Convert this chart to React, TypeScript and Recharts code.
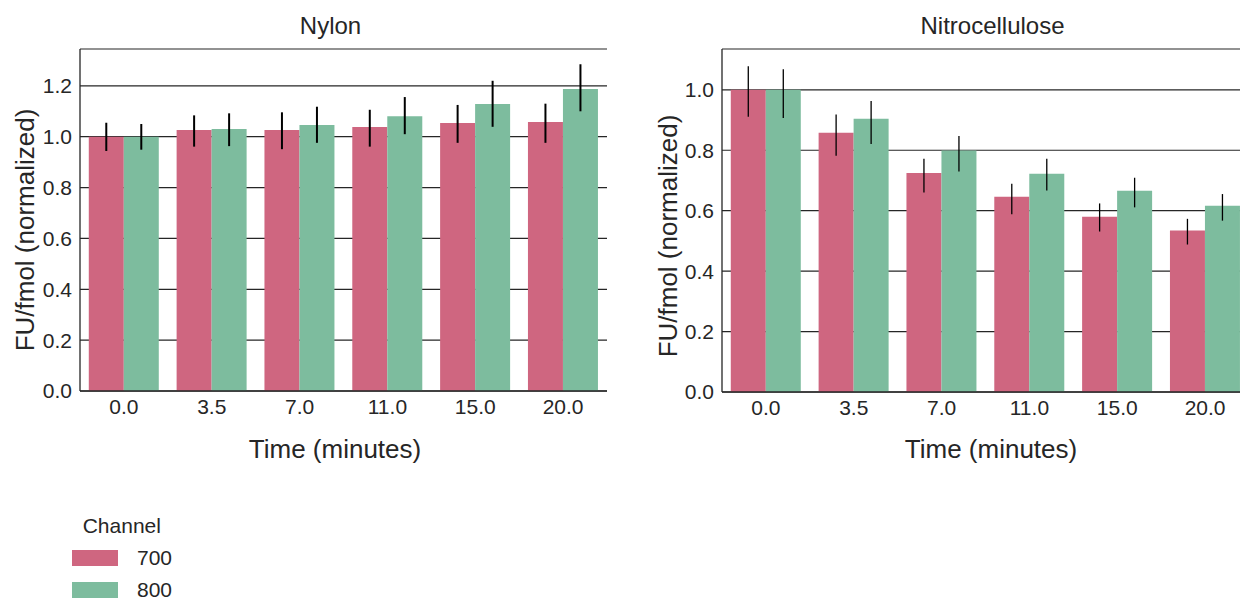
import { BarChart, Bar, XAxis, YAxis, CartesianGrid, ErrorBar } from "recharts";

const times = ["0.0", "3.5", "7.0", "11.0", "15.0", "20.0"];
const yTicks = [0, 0.2, 0.4, 0.6, 0.8, 1.0, 1.2];

// Nylon membrane, mean + 95% CI bounds
const nylon700 = [1.0, 1.026, 1.026, 1.038, 1.054, 1.058];
const nylon700Low = [0.944, 0.961, 0.951, 0.961, 0.976, 0.976];
const nylon700High = [1.055, 1.084, 1.096, 1.106, 1.125, 1.13];
const nylon800 = [1.0, 1.03, 1.046, 1.081, 1.129, 1.188];
const nylon800Low = [0.949, 0.963, 0.976, 1.01, 1.039, 1.1];
const nylon800High = [1.05, 1.092, 1.118, 1.156, 1.22, 1.285];

// Nitrocellulose membrane
const nitro700 = [1.0, 0.858, 0.725, 0.646, 0.58, 0.534];
const nitro700Low = [0.911, 0.782, 0.66, 0.588, 0.531, 0.488];
const nitro700High = [1.078, 0.918, 0.772, 0.689, 0.624, 0.573];
const nitro800 = [1.0, 0.904, 0.799, 0.722, 0.666, 0.616];
const nitro800Low = [0.907, 0.821, 0.73, 0.667, 0.611, 0.567];
const nitro800High = [1.068, 0.963, 0.847, 0.772, 0.709, 0.655];

const PINK = "#cf6680";
const GREEN = "#7dbc9e";
const TEXT = "#262626";
const LINE = "#262626";
const FONT = "'Liberation Sans', Arial, sans-serif";

const buildRows = (a: number[], aLo: number[], aHi: number[], b: number[], bLo: number[], bHi: number[]) =>
  times.map((t, i) => ({
    time: t,
    c700: a[i],
    e700: [a[i] - aLo[i], aHi[i] - a[i]],
    c800: b[i],
    e800: [b[i] - bLo[i], bHi[i] - b[i]],
  }));

const nylonRows = buildRows(nylon700, nylon700Low, nylon700High, nylon800, nylon800Low, nylon800High);
const nitroRows = buildRows(nitro700, nitro700Low, nitro700High, nitro800, nitro800Low, nitro800High);

function Panel({ data, width, yAxisWidth, bottom, yMax, errWidth }: any) {
  const ticks = yTicks.filter((t) => t <= yMax);
  return (
    <BarChart
      width={width}
      height={460}
      data={data}
      margin={{ top: 49, right: 13, bottom, left: 0 }}
      barCategoryGap="10%"
      barGap={0}
    >
      <CartesianGrid vertical={false} stroke={LINE} strokeWidth={1.2} />
      <XAxis
        dataKey="time"
        height={30}
        tickLine={false}
        axisLine={{ stroke: LINE, strokeWidth: 1.3 }}
        tick={{ fontSize: 21, fill: TEXT, fontFamily: FONT }}
      />
      <XAxis xAxisId="top" dataKey="time" orientation="top" height={0} tick={false} tickLine={false} axisLine={{ stroke: LINE, strokeWidth: 1.3 }} />
      <YAxis
        width={yAxisWidth}
        domain={[0, yMax]}
        allowDataOverflow
        ticks={ticks}
        tickFormatter={(v: number) => v.toFixed(1)}
        tickLine={false}
        axisLine={{ stroke: LINE, strokeWidth: 1.3 }}
        tick={{ fontSize: 21, fill: TEXT, fontFamily: FONT }}
      />
      <YAxis yAxisId="right" orientation="right" width={0} tick={false} tickLine={false} axisLine={{ stroke: LINE, strokeWidth: 1.3 }} />
      <Bar dataKey="c700" fill={PINK} isAnimationActive={false}>
        <ErrorBar dataKey="e700" width={0} stroke="#000" strokeWidth={errWidth} direction="y" />
      </Bar>
      <Bar dataKey="c800" fill={GREEN} isAnimationActive={false}>
        <ErrorBar dataKey="e800" width={0} stroke="#000" strokeWidth={errWidth} direction="y" />
      </Bar>
    </BarChart>
  );
}

export default function App() {
  const txt = { fontFamily: FONT, fill: TEXT };
  return (
    <div style={{ position: "absolute", left: 0, top: 0, width: 1240, height: 601, overflow: "hidden", background: "#fff" }}>
      <div style={{ position: "absolute", left: 0, top: 0 }}>
        <Panel data={nylonRows} width={620} yAxisWidth={80} bottom={39} yMax={1.345} errWidth={2} />
      </div>
      <div style={{ position: "absolute", left: 640, top: 0 }}>
        <Panel data={nitroRows} width={622} yAxisWidth={82} bottom={38} yMax={1.135} errWidth={1.3} />
      </div>
      <svg width={1240} height={601} style={{ position: "absolute", left: 0, top: 0, pointerEvents: "none" }}>
        {/* titles */}
        <text x={330.5} y={34.3} textAnchor="middle" fontSize={24} {...txt}>Nylon</text>
        <text x={992.5} y={34.3} textAnchor="middle" fontSize={24} {...txt}>Nitrocellulose</text>
        {/* axis labels */}
        <text x={335} y={457.7} textAnchor="middle" fontSize={26} {...txt}>Time (minutes)</text>
        <text x={991} y={457.7} textAnchor="middle" fontSize={26} {...txt}>Time (minutes)</text>
        <text x={33.5} y={230} textAnchor="middle" fontSize={26} transform="rotate(-90 33.5 230)" {...txt}>FU/fmol (normalized)</text>
        <text x={676.7} y={236} textAnchor="middle" fontSize={26} transform="rotate(-90 676.7 236)" {...txt}>FU/fmol (normalized)</text>
        {/* legend */}
        <text x={82.7} y={533.3} fontSize={21} {...txt}>Channel</text>
        <rect x={72} y={550} width={46} height={16} fill={PINK} />
        <text x={137} y={565} fontSize={21} {...txt}>700</text>
        <rect x={72} y={582} width={46} height={16} fill={GREEN} />
        <text x={137} y={597} fontSize={21} {...txt}>800</text>
      </svg>
    </div>
  );
}
